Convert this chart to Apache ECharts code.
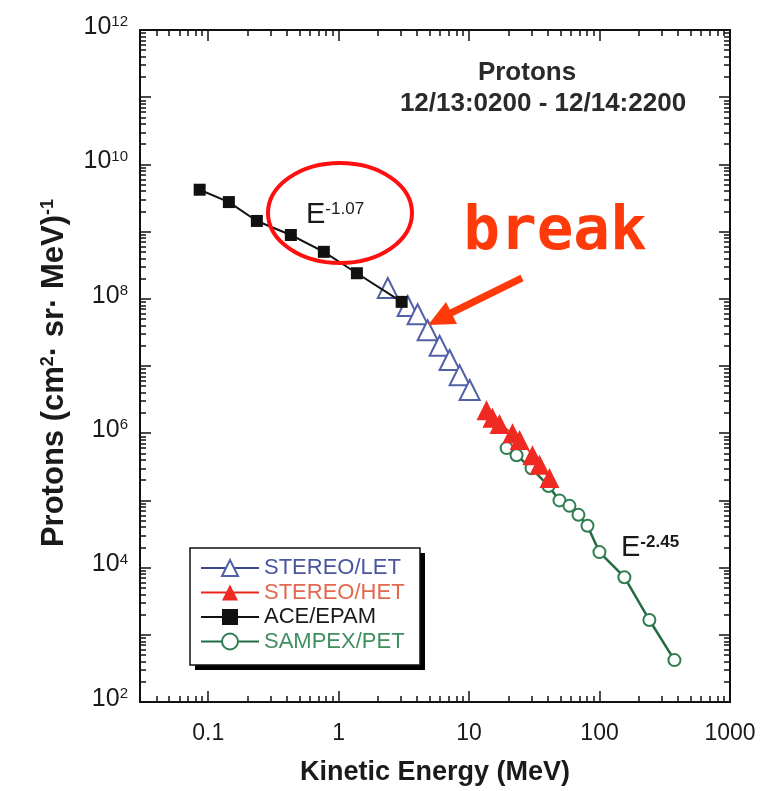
<!DOCTYPE html>
<html>
<head>
<meta charset="utf-8">
<style>
html, body { margin: 0; padding: 0; background: #fff; }
#chart { width: 774px; height: 791px; }
</style>
<script src="https://cdn.jsdelivr.net/npm/echarts@6/dist/echarts.min.js"></script>
</head>
<body>
<div id="chart"></div>
<script>
const chart = echarts.init(document.getElementById("chart"));

// values (energy in MeV, flux in protons / cm2 sr MeV)
const aceEnergy = [0.086, 0.144, 0.236, 0.43, 0.77, 1.38, 3.04];
const aceFlux = [4.2e9, 2.75e9, 1.44e9, 8.9e8, 5.0e8, 2.4e8, 9.0e7];
const letEnergy = [2.38, 3.38, 4.03, 4.81, 5.94, 7.09, 8.46, 10.1];
const letFlux = [1.45e8, 7.8e7, 5.9e7, 3.4e7, 2.0e7, 1.23e7, 7.3e6, 4.4e6];
const hetEnergy = [13.6, 15.1, 17.1, 21.5, 24.4, 30.6, 34.7, 41.3];
const hetFlux = [2.2e6, 1.7e6, 1.37e6, 1.0e6, 7.9e5, 4.7e5, 3.4e5, 2.15e5];
const petEnergy = [19.4, 23.1, 30.1, 40.6, 49.3, 58.8, 68.9, 80.8, 99.8, 155, 241, 375];
const petFlux = [6.0e5, 4.7e5, 3.0e5, 1.64e5, 1.0e5, 8.3e4, 6.1e4, 4.2e4, 1.7e4, 7.2e3, 1.66e3, 420];

const xMin = 0.03, xMax = 1000;
const yMin = 1e2, yMax = 1e12;
const xTickValues = [0.1, 1, 10, 100, 1000];
const xTickLabels = ["0.1", "1", "10", "100", "1000"];
const yTickValues = [1e2, 1e4, 1e6, 1e8, 1e10, 1e12];
const yTickExponents = ["2", "4", "6", "8", "10", "12"];

const FONT = "'Liberation Sans', Arial, Helvetica, sans-serif";
const lg = v => Math.log10(v);

function decadeTicks(lo, hi) {
    const major = [], minor = [];
    for (let d = Math.floor(lg(lo)); d <= Math.ceil(lg(hi)); d++) {
        for (let k = 1; k <= 9; k++) {
            const v = k * Math.pow(10, d);
            if (v < lo * 0.999 || v > hi * 1.001) continue;
            (k === 1 ? major : minor).push(lg(v));
        }
    }
    return { major, minor };
}

function findLabel(v, values, labels) {
    for (let i = 0; i < values.length; i++) {
        if (Math.abs(lg(values[i]) - v) < 1e-6) return labels[i];
    }
    return "";
}

function frameAxis(position, min, max, ticks, len, showLine, label) {
    return {
        type: "value",
        position: position,
        min: min,
        max: max,
        axisLine: { show: showLine, onZero: false, lineStyle: { color: "#111", width: 2 } },
        axisTick: { show: true, inside: true, length: len, customValues: ticks, lineStyle: { color: "#111", width: 1.5 } },
        axisLabel: label || { show: false },
        splitLine: { show: false }
    };
}

const xt = decadeTicks(xMin, xMax);
const yt = decadeTicks(yMin, yMax);

const xBottom = frameAxis("bottom", lg(xMin), lg(xMax), xt.major, 11, true, {
    show: true,
    customValues: xTickValues.map(lg),
    margin: 20,
    color: "#1a1a1a",
    fontFamily: FONT,
    fontSize: 23,
    formatter: v => findLabel(v, xTickValues, xTickLabels)
});
xBottom.name = "Kinetic Energy (MeV)";
xBottom.nameLocation = "middle";
xBottom.nameGap = 57;
xBottom.nameTextStyle = { fontFamily: FONT, fontSize: 27, fontWeight: "bold", color: "#1a1a1a" };

const yLeft = frameAxis("left", lg(yMin), lg(yMax), yt.major, 11, true, {
    show: true,
    customValues: yTickValues.map(lg),
    margin: 12,
    padding: [0, 0, 6, 0],
    formatter: v => "{b|10}{s|" + findLabel(v, yTickValues, yTickExponents) + "}",
    rich: {
        b: { fontFamily: FONT, fontSize: 25, lineHeight: 25, color: "#1a1a1a", verticalAlign: "bottom" },
        s: { fontFamily: FONT, fontSize: 15, lineHeight: 15, color: "#1a1a1a", verticalAlign: "top", padding: [0, 0, 14, 0] }
    }
});
yLeft.name = "Protons (cm{s|2}· sr· MeV){s|-1}";
yLeft.nameLocation = "middle";
yLeft.nameGap = 70;
yLeft.nameTextStyle = {
    fontFamily: FONT, fontSize: 31, fontWeight: "bold", color: "#1a1a1a",
    padding: [0, 14, 0, 0],
    rich: { s: { fontFamily: FONT, fontSize: 18, fontWeight: "bold", color: "#1a1a1a", verticalAlign: "top" } }
};

const xAxes = [
    xBottom,
    frameAxis("bottom", lg(xMin), lg(xMax), xt.minor, 6, false),
    frameAxis("top", lg(xMin), lg(xMax), xt.major, 11, true),
    frameAxis("top", lg(xMin), lg(xMax), xt.minor, 6, false)
];
const yAxes = [
    yLeft,
    frameAxis("left", lg(yMin), lg(yMax), yt.minor, 6, false),
    frameAxis("right", lg(yMin), lg(yMax), yt.major, 11, true),
    frameAxis("right", lg(yMin), lg(yMax), yt.minor, 6, false)
];

const toPairs = (xs, ys) => xs.map((x, i) => [lg(x), lg(ys[i])]);

const option = {
    backgroundColor: "#fff",
    animation: false,
    grid: { left: 140, right: 44, top: 30, bottom: 89, containLabel: false },
    xAxis: xAxes,
    yAxis: yAxes,
    legend: {
        orient: "vertical",
        left: 200,
        top: 557,
        itemWidth: 58,
        itemHeight: 20,
        itemGap: 2.5,
        padding: 0,
        textStyle: { fontFamily: FONT, fontSize: 22, lineHeight: 22 },
        data: [
            { name: "STEREO/LET", textStyle: { color: "#4a55a0" } },
            { name: "STEREO/HET", textStyle: { color: "#e2684f" } },
            { name: "ACE/EPAM", textStyle: { color: "#1a1a1a" } },
            { name: "SAMPEX/PET", textStyle: { color: "#3f8f60" } }
        ]
    },
    series: [
        {
            name: "SAMPEX/PET",
            type: "line",
            data: toPairs(petEnergy, petFlux),
            symbol: "emptyCircle",
            symbolSize: 12,
            lineStyle: { color: "#236b40", width: 2.5 },
            itemStyle: { color: "#2f7d50", borderWidth: 1.2 },
            z: 2
        },
        {
            name: "STEREO/HET",
            type: "line",
            data: toPairs(hetEnergy, hetFlux),
            symbol: "triangle",
            symbolSize: 20,
            lineStyle: { color: "#e8261e", width: 1.5 },
            itemStyle: { color: "#ee2a22" },
            z: 3
        },
        {
            name: "STEREO/LET",
            type: "line",
            data: toPairs(letEnergy, letFlux),
            symbol: "emptyTriangle",
            symbolSize: 20,
            lineStyle: { color: "#3c4790", width: 1.5 },
            itemStyle: { color: "#5260a8", borderWidth: 1 },
            z: 4
        },
        {
            name: "ACE/EPAM",
            type: "line",
            data: toPairs(aceEnergy, aceFlux),
            symbol: "rect",
            symbolSize: 12,
            lineStyle: { color: "#111", width: 2 },
            itemStyle: { color: "#111" },
            z: 5
        }
    ],
    graphic: [
        // legend frame with its drop shadow
        {
            type: "rect", z: 1,
            shape: { x: 195, y: 553, width: 230, height: 117 },
            style: { fill: "#000" }
        },
        {
            type: "rect", z: 1,
            shape: { x: 190, y: 548, width: 230, height: 117 },
            style: { fill: "#fff", stroke: "#111", lineWidth: 1.5 }
        },
        {
            type: "text", x: 527, y: 73, z: 10,
            style: { text: "Protons", fill: "#2a2a2a", font: "bold 26px " + FONT, textAlign: "center", textVerticalAlign: "middle" }
        },
        {
            type: "text", x: 543, y: 104, z: 10,
            style: { text: "12/13:0200 - 12/14:2200", fill: "#2a2a2a", font: "bold 26px " + FONT, textAlign: "center", textVerticalAlign: "middle" }
        },
        {
            type: "text", x: 306, y: 215, z: 10,
            style: {
                text: "{e|E}{s|-1.07}", textAlign: "left", textVerticalAlign: "middle",
                rich: {
                    e: { fontFamily: FONT, fontSize: 29, lineHeight: 29, fill: "#1a1a1a", verticalAlign: "bottom" },
                    s: { fontFamily: FONT, fontSize: 17, lineHeight: 17, fill: "#1a1a1a", verticalAlign: "top", padding: [0, 0, 21, 0] }
                }
            }
        },
        {
            type: "text", x: 621, y: 548, z: 10,
            style: {
                text: "{e|E}{s|-2.45}", textAlign: "left", textVerticalAlign: "middle",
                rich: {
                    e: { fontFamily: FONT, fontSize: 29, lineHeight: 29, fill: "#1a1a1a", verticalAlign: "bottom" },
                    s: { fontFamily: FONT, fontSize: 17, fontWeight: "bold", lineHeight: 17, fill: "#1a1a1a", verticalAlign: "top", padding: [0, 0, 21, 0] }
                }
            }
        },
        {
            type: "ellipse", z: 11,
            shape: { cx: 340, cy: 213, rx: 72, ry: 50 },
            style: { fill: null, stroke: "#ff1010", lineWidth: 4 }
        },
        {
            type: "text", x: 555, y: 233, z: 11,
            style: { text: "break", fill: "#ff3a0a", font: "bold 61px 'DejaVu Sans Mono', monospace", textAlign: "center", textVerticalAlign: "middle" }
        },
        {
            type: "line", z: 11,
            shape: { x1: 522, y1: 278, x2: 449, y2: 314 },
            style: { stroke: "#ff3a0a", lineWidth: 7 }
        },
        {
            type: "polygon", z: 11,
            shape: { points: [[428, 325], [457, 324], [446, 302]] },
            style: { fill: "#ff3a0a" }
        }
    ]
};

chart.setOption(option);
window.addEventListener("resize", () => chart.resize());
</script>
</body>
</html>
